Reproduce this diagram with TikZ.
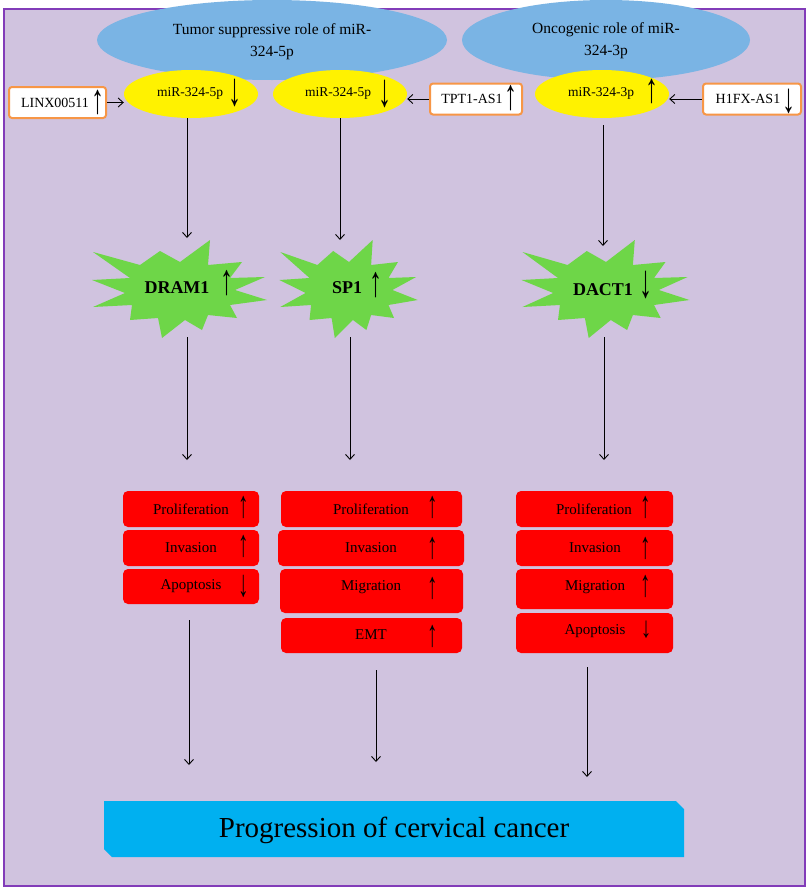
\documentclass[tikz,border=0pt]{standalone}
\usepackage{graphicx}
\usepackage{fontspec}
\setmainfont{Liberation Serif}
\usetikzlibrary{shapes.geometric,arrows.meta}
\definecolor{bgc}{RGB}{208,195,223}
\definecolor{frame}{RGB}{130,60,185}
\definecolor{blueE}{RGB}{122,180,228}
\definecolor{greenS}{RGB}{110,214,72}
\definecolor{cyanB}{RGB}{0,176,240}
\definecolor{orangeB}{RGB}{247,150,70}
\newcommand\fs[1]{\fontsize{#1}{#1}\selectfont}
\newcommand\upar[1][1.8]{\scalebox{1}[#1]{↑}}
\newcommand\dnar[1][1.8]{\scalebox{1}[#1]{↓}}
\tikzset{
  blueell/.style={ellipse, fill=blueE, inner sep=0pt, minimum width=#1, minimum height=80},
  btxt/.style={inner sep=0pt, align=center, font=\fontsize{15.5}{22}\selectfont},
  yell/.style={ellipse, fill=yellow, inner sep=0pt, minimum width=134, minimum height=48},
  lnc/.style={rectangle, draw=orangeB, line width=2pt, rounded corners=3pt, fill=white, inner sep=0pt, minimum height=31},
  redbox/.style={rectangle, fill=red, rounded corners=5pt, inner sep=0pt},
  txt/.style={inner sep=0pt, font=\fs{14}},
  rtxt/.style={inner sep=0pt, font=\fs{15}},
  gtxt/.style={inner sep=0pt, font=\bfseries\fs{18}},
  glyph/.style={inner sep=0pt, font=\bfseries\fs{26}},
  rglyph/.style={inner sep=0pt, font=\bfseries\fs{21}},
  arr/.style={line width=0.9pt, -{Straight Barb[length=5pt,width=9pt]}},
  burst/.pic={\fill[greenS] (-88,-10) -- (-50,-12) -- (-87,-38) -- (-40,-25) -- (-20,-39) -- (0,-28) -- (30,-50) -- (28,-25) -- (62,-28) -- (50,-12) -- (85,-13) -- (55,0) -- (87,10) -- (50,15) -- (57,28) -- (28,25) -- (22,40) -- (5,30) -- (-18,48) -- (-22,28) -- (-50,30) -- (-48,15) -- (-87,17) -- (-55,3) -- cycle;}
}
\begin{document}
\begin{tikzpicture}[x=1pt,y=-1pt]
\useasboundingbox (0,0) rectangle (809,889);
\fill[white] (0,0) rectangle (809,889);
\draw[fill=bgc, draw=frame, line width=2pt] (4,9) rectangle (805,886);

% blue ellipses
\node[blueell=350] (tsr) at (272,40) {};
\node[btxt] (tsrt) at (272,42) {Tumor suppressive role of miR-\\324-5p};
\node[blueell=288] (onc) at (606,40) {};
\node[btxt] (onct) at (606,41) {Oncogenic role of miR-\\324-3p};

% yellow ellipses
\node[yell] (y1) at (191,94) {};
\node[txt, font=\fs{13.5}] (y1t) at (190,93) {miR-324-5p};
\node[glyph] (y1a) at (235,93) {\dnar};
\node[yell] (y2) at (340,94) {};
\node[txt, font=\fs{13.5}] (y2t) at (338,93) {miR-324-5p};
\node[glyph] (y2a) at (385,94) {\dnar};
\node[yell] (y3) at (602,94) {};
\node[txt, font=\fs{13.5}] (y3t) at (601,93) {miR-324-3p};
\node[glyph] (y3a) at (652,91) {\upar[1.6]};

% lncRNA boxes
\node[lnc, minimum width=97] (l1) at (57.5,102.5) {};
\node[txt] (l1t) at (55,103) {LINX00511};
\node[glyph] (l1a) at (98,102.5) {\upar[1.6]};
\node[lnc, minimum width=92] (l2) at (476,99) {};
\node[txt] (l2t) at (472,99) {TPT1-AS1};
\node[glyph] (l2a) at (511,98.5) {\upar[1.65]};
\node[lnc, minimum width=98] (l3) at (752,99) {};
\node[txt] (l3t) at (748,99) {H1FX-AS1};
\node[glyph] (l3a) at (789,101.5) {\dnar[1.6]};

\draw[arr] (l1.east) -- (l1.east -| y1.west);
\draw[arr] (l2.west) -- (l2.west -| y2.east);
\draw[arr] (l3.west) -- (l3.west -| y3.east);

% starbursts
\pic at (180,290) {burst};
\pic[xscale=0.79] at (349,290) {burst};
\pic[xscale=0.96] at (606,290) {burst};
\node[gtxt] (g1) at (177,288) {DRAM1};
\node[glyph] (g1a) at (227,283.5) {\upar[1.65]};
\node[gtxt] (g2) at (347,288) {SP1};
\node[glyph] (g2a) at (376,285) {\upar[1.65]};
\node[gtxt] (g3) at (603,290) {DACT1};
\node[glyph] (g3a) at (646,285) {\dnar};

% arrows miRNA -> genes
\coordinate (a1s) at (187,118); \coordinate (a1e) at (187,238);
\coordinate (a2s) at (340,118); \coordinate (a2e) at (340,240);
\coordinate (a3s) at (603,125); \coordinate (a3e) at (603,246);
\draw[arr] (a1s) -- (a1e);
\draw[arr] (a2s) -- (a2e);
\draw[arr] (a3s) -- (a3e);

% arrows genes -> phenotypes
\coordinate (b1s) at (187,337); \coordinate (b1e) at (187,460);
\coordinate (b2s) at (350,337); \coordinate (b2e) at (350,460);
\coordinate (b3s) at (604,337); \coordinate (b3e) at (604,460);
\draw[arr] (b1s) -- (b1e);
\draw[arr] (b2s) -- (b2e);
\draw[arr] (b3s) -- (b3e);

% column 1 boxes
\node[redbox, minimum width=136, minimum height=36] (c1a) at (191,509) {};
\node[rtxt] (c1at) at (191,509) {Proliferation};
\node[rglyph] (c1aa) at (244,507) {\upar};
\node[redbox, minimum width=136, minimum height=36] (c1b) at (191,548) {};
\node[rtxt] (c1bt) at (191,548) {Invasion};
\node[rglyph] (c1ba) at (244,546) {\upar};
\node[redbox, minimum width=136, minimum height=35] (c1c) at (191,586.5) {};
\node[rtxt] (c1ct) at (191,586) {Apoptosis};
\node[rglyph] (c1ca) at (244,586) {\dnar};

% column 2 boxes
\node[redbox, minimum width=181, minimum height=36] (c2a) at (371.5,509) {};
\node[rtxt] (c2at) at (371,509) {Proliferation};
\node[rglyph] (c2aa) at (433,507) {\upar};
\node[redbox, minimum width=186, minimum height=36] (c2b) at (371,548) {};
\node[rtxt] (c2bt) at (371,548) {Invasion};
\node[rglyph] (c2ba) at (433,548) {\upar};
\node[redbox, minimum width=183, minimum height=44] (c2c) at (371.5,591) {};
\node[rtxt] (c2ct) at (371,587) {Migration};
\node[rglyph] (c2ca) at (433,588) {\upar};
\node[redbox, minimum width=181, minimum height=35] (c2d) at (371.5,635.5) {};
\node[rtxt] (c2dt) at (371,635) {EMT};
\node[rglyph] (c2da) at (433,636) {\upar};

% column 3 boxes
\node[redbox, minimum width=157, minimum height=36] (c3a) at (594.5,509) {};
\node[rtxt] (c3at) at (594,509) {Proliferation};
\node[rglyph] (c3aa) at (646,507) {\upar};
\node[redbox, minimum width=157, minimum height=36] (c3b) at (594.5,548) {};
\node[rtxt] (c3bt) at (595,548) {Invasion};
\node[rglyph] (c3ba) at (646,548) {\upar};
\node[redbox, minimum width=157, minimum height=40] (c3c) at (594.5,589) {};
\node[rtxt] (c3ct) at (595,587) {Migration};
\node[rglyph] (c3ca) at (646,586) {\upar};
\node[redbox, minimum width=157, minimum height=40] (c3d) at (594.5,633) {};
\node[rtxt] (c3dt) at (595,631) {Apoptosis};
\node[rglyph] (c3da) at (646,630) {\dnar[1.4]};

% arrows phenotypes -> progression
\coordinate (d1s) at (189,620); \coordinate (d1e) at (189,765);
\coordinate (d2s) at (376,670); \coordinate (d2e) at (376,762);
\coordinate (d3s) at (587,667); \coordinate (d3e) at (587,777);
\draw[arr] (d1s) -- (d1e);
\draw[arr] (d2s) -- (d2e);
\draw[arr] (d3s) -- (d3e);

% progression box
\fill[cyanB] (104,801) -- (676,801) -- (684,809) -- (684,857) -- (112,857) -- (104,849) -- cycle;
\node[inner sep=0pt, font=\fs{29}] (prog) at (394,830) {Progression of cervical cancer};
\end{tikzpicture}
\end{document}
